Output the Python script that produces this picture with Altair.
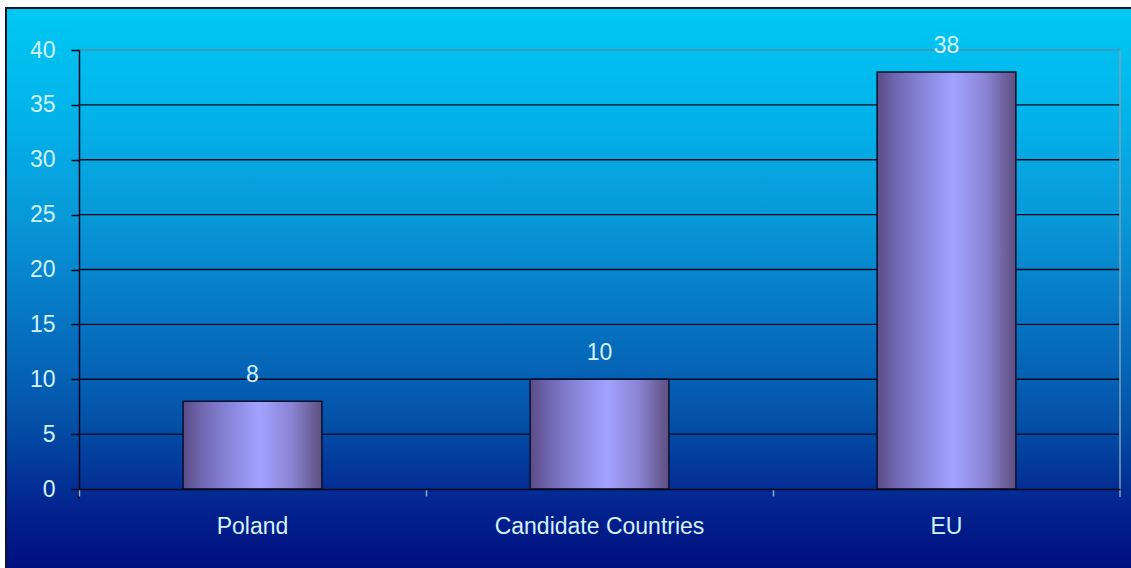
import altair as alt
import pandas as pd

categories = ["Poland", "Candidate Countries", "EU"]
values = [8, 10, 38]
y_ticks = [0, 5, 10, 15, 20, 25, 30, 35, 40]
grid_values = [5, 10, 15, 20, 25, 30, 35, 40]

W, H = 1041, 439
FONT = "Liberation Sans"
TXT = "#d2f2ff"

df = pd.DataFrame({"category": categories, "value": values})
grid_df = pd.DataFrame({"value": grid_values})

x_scale = alt.Scale(domain=categories, paddingInner=0, paddingOuter=0)
y_scale = alt.Scale(domain=[0, 40], nice=False, zero=True)

x_axis = alt.Axis(
    title=None, labelAngle=0, grid=False, domainColor="#02051a", domainWidth=1.5,
    ticks=True, bandPosition=0, tickColor="#8fb0cc", tickSize=7, tickWidth=1.5,
    labelColor=TXT, labelFont=FONT, labelFontSize=23, labelPadding=19, labelLimit=0,
    zindex=1,
)
y_axis = alt.Axis(
    title=None, values=y_ticks, grid=False, domainColor="#02051a", domainWidth=1.5,
    tickColor="#02051a", tickSize=8, tickWidth=1.5,
    labelColor=TXT, labelFont=FONT, labelFontSize=23, labelPadding=16, zindex=1,
)

bg_gradient = alt.Gradient(
    gradient="linear", x1=0, x2=0, y1=0, y2=1,
    stops=[
        alt.GradientStop(color="#00c8f4", offset=0),
        alt.GradientStop(color="#02b4ea", offset=0.18),
        alt.GradientStop(color="#0898d8", offset=0.37),
        alt.GradientStop(color="#0674c2", offset=0.55),
        alt.GradientStop(color="#0452a8", offset=0.72),
        alt.GradientStop(color="#02228e", offset=0.88),
        alt.GradientStop(color="#000c7c", offset=1),
    ],
)

bar_gradient = alt.Gradient(
    gradient="linear", x1=0, x2=1, y1=0, y2=0,
    stops=[
        alt.GradientStop(color="#5a4c86", offset=0),
        alt.GradientStop(color="#6e64ac", offset=0.12),
        alt.GradientStop(color="#8684d8", offset=0.32),
        alt.GradientStop(color="#a2a2ff", offset=0.55),
        alt.GradientStop(color="#8a84d4", offset=0.78),
        alt.GradientStop(color="#5e4f80", offset=1),
    ],
)

background = alt.Chart(alt.Data(values=[{"k": 1}])).mark_rect(
    fill=bg_gradient, stroke="#101426", strokeWidth=2
).encode(
    x=alt.value(-73), x2=alt.value(W + 30), y=alt.value(-42), y2=alt.value(H + 90)
)

grid = alt.Chart(grid_df).mark_rule(strokeWidth=1.3).encode(
    y=alt.Y("value:Q", scale=y_scale, axis=y_axis),
    color=alt.condition("datum.value == 40", alt.value("#4f8fa8"), alt.value("#03081e")),
)

right_border = alt.Chart(alt.Data(values=[{"k": 1}])).mark_rule(
    color="#7fa2b6", strokeWidth=1.5
).encode(x=alt.value(W), y=alt.value(0), y2=alt.value(H + 8))

left_ext = alt.Chart(alt.Data(values=[{"k": 1}])).mark_rule(
    color="#02051a", strokeWidth=1.5
).encode(x=alt.value(0), y=alt.value(H), y2=alt.value(H + 10))

bars = alt.Chart(df).mark_bar(
    width=alt.RelativeBandSize(0.4), fill=bar_gradient, stroke="#0a0f2e", strokeWidth=1.5
).encode(
    x=alt.X("category:N", scale=x_scale, sort=categories, axis=x_axis),
    y=alt.Y("value:Q", scale=y_scale, axis=y_axis),
)

labels = alt.Chart(df).mark_text(
    dy=-19, baseline="alphabetic", fontSize=23, font=FONT, color=TXT
).encode(
    x=alt.X("category:N", scale=x_scale, sort=categories, axis=x_axis),
    y=alt.Y("value:Q", scale=y_scale, axis=y_axis),
    text=alt.Text("value:Q"),
)

chart = alt.layer(background, grid, right_border, left_ext, bars, labels).properties(
    width=W, height=H,
    autosize=alt.AutoSizeParams(type="none"),
    padding={"left": 79, "top": 50, "right": 11, "bottom": 79},
    background="white",
).configure_view(strokeWidth=0)

chart.save("out.html", embed_options={"renderer": "svg", "actions": False})
